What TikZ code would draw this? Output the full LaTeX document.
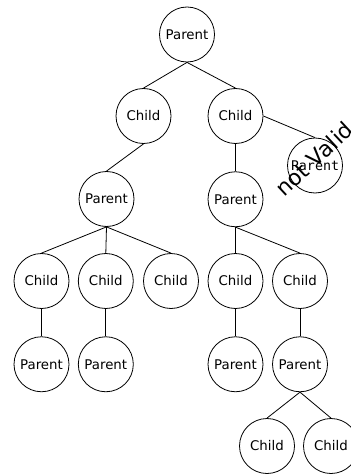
\documentclass[tikz,border=0pt]{standalone}
\usepackage{fontspec}
\setmainfont{DejaVu Sans}
\newfontfamily\monofont{DejaVu Sans Mono}
\usetikzlibrary{positioning}

\begin{document}
\begin{tikzpicture}[
    x=0.75pt,y=-0.75pt,
    node distance=20.6pt,
    tnode/.style={draw,circle,line width=0.6pt,minimum size=41.25pt,inner sep=1pt,font=\normalsize},
    link/.style={line width=0.6pt}
]
\useasboundingbox (0,0) rectangle (350,474);
% top levels
\node[tnode] (root) at (187,34.5) {Parent};
\node[tnode] (c1) at (143.5,116) {Child};
\node[tnode] (c2) at (235.5,116) {Child};
\node[tnode] (p1) at (106.5,199) {Parent};
\node[tnode,below=of c2] (p2) {Parent};
\node[tnode,font=\monofont] (nv) at (315,165.5) {Parent};
% third level
\node[tnode] (c11) at (41.5,281) {Child};
\node[tnode] (c12) at (105.8,281) {Child};
\node[tnode] (c13) at (171,281) {Child};
\node[tnode] (c21) at (235.5,281) {Child};
\node[tnode] (c22) at (300,281) {Child};
\node[tnode,below=of c11] (p11) {Parent};
\node[tnode,below=of c12] (p12) {Parent};
\node[tnode,below=of c21] (p21) {Parent};
\node[tnode,below=of c22] (p22) {Parent};
\node[tnode] (c221) at (267,446) {Child};
\node[tnode] (c222) at (331,446) {Child};
% label across the invalid node
\node[rotate=43,font=\fontsize{16.5}{19}\selectfont,inner sep=0pt] (bad) at (314,159) {not Valid};
\draw[link] (root.south) -- (c1.north);
\draw[link] (root.south) -- (c2.north);
\draw[link] (c1.south) -- (p1.north);
\draw[link] (c2.south) -- (p2.north);
\draw[link] (c2.east) -- (nv.north);
\draw[link] (p1.south) -- (c11.north);
\draw[link] (p1.south) -- (c12.north);
\draw[link] (p1.south) -- (c13.north);
\draw[link] (p2.south) -- (c21.north);
\draw[link] (p2.south) -- (c22.north);
\draw[link] (c11.south) -- (p11.north);
\draw[link] (c12.south) -- (p12.north);
\draw[link] (c21.south) -- (p21.north);
\draw[link] (c22.south) -- (p22.north);
\draw[link] (p22.south) -- (c221.north);
\draw[link] (p22.south) -- (c222.north);
\end{tikzpicture}
\end{document}
